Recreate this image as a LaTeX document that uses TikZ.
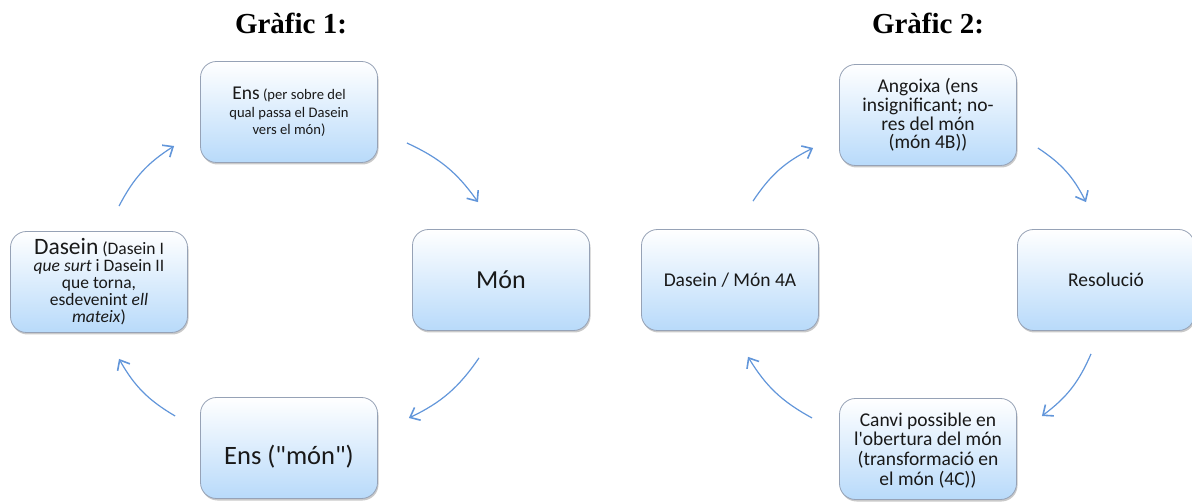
\documentclass[tikz,border=0pt]{standalone}
\usepackage{fontspec}
\newfontfamily\boxfont{Carlito}[Ligatures=TeXOff]
\newfontfamily\titlefont{Liberation Serif}
\usetikzlibrary{arrows.meta,shadows,calc}
\definecolor{boxblue}{RGB}{184,218,250}
\definecolor{boxedge}{RGB}{150,162,182}
\definecolor{cycblue}{RGB}{98,150,218}
\tikzset{
  cbox/.style={draw=boxedge, line width=0.8pt, rounded corners=16pt,
    top color=white, bottom color=boxblue,
    minimum width=177pt, minimum height=101pt, align=center, inner sep=2pt,
    text=black!90,
    drop shadow={shadow xshift=1pt, shadow yshift=-2pt, opacity=0.3, fill=black!70}},
  cyc/.style={draw=cycblue, line width=1.2pt,
    -{Straight Barb[angle=80:11pt, line width=1.6pt]}},
  titlelbl/.style={font=\titlefont\bfseries\fontsize{29}{31}\selectfont},
  gtwo/.style={font=\boxfont\fontsize{19.5}{18.7}\selectfont}
}
\begin{document}
\begin{tikzpicture}[x=1pt,y=1pt]
  \useasboundingbox (0,0) rectangle (1192,501);
  % Titols
  \node[titlelbl] (tit1) at (291,477) {Gràfic 1:};
  \node[titlelbl] (tit2) at (928,477) {Gràfic 2:};

  % Grafic 1
  \node[cbox, font=\boxfont\fontsize{14.6}{17.5}\selectfont] (ensA) at (289,389)
    {{\fontsize{19.5}{19}\selectfont Ens} (per sobre del\\qual passa el Dasein\\vers el món)};
  \node[cbox, font=\boxfont\fontsize{26}{28}\selectfont] (mon) at (501,221) {Món};
  \node[cbox, font=\boxfont\fontsize{17.5}{17}\selectfont] (dasein) at (99,219)
    {{\fontsize{23.5}{20}\selectfont Dasein} (Dasein I\\\textit{que surt} i Dasein II\\que torna,\\esdevenint \textit{ell}\\\textit{mateix})};
  \node[cbox, font=\boxfont\fontsize{26.5}{28}\selectfont] (ensB) at (289,53)
    {\raisebox{-9pt}[\height][\depth]{Ens ("món")}};

  \draw[cyc] ($(dasein.north)+(20,25)$) to[bend left=15] ($(ensA.west)+(-26,-34)$);
  \draw[cyc] ($(ensA.east)+(29,-31)$) to[bend left=15] ($(mon.north)+(-23,27)$);
  \draw[cyc] ($(mon.south)+(-22,-27)$) to[bend left=15] ($(ensB.east)+(31,30)$);
  \draw[cyc] ($(ensB.west)+(-25,32)$) to[bend left=15] ($(dasein.south)+(20,-26)$);

  % Grafic 2
  \node[cbox, gtwo] (ango) at (928,386)
    {Angoixa (ens\\insignificant; no-\\res del món\\(món 4B))};
  \node[cbox, gtwo] (dmon) at (730,221) {Dasein / Món 4A};
  \node[cbox, gtwo] (reso) at (1106,221) {Resolució};
  \node[cbox, gtwo] (canvi) at (928,52)
    {\raisebox{-3pt}[\height][\depth]{\begin{tabular}{@{}c@{}}Canvi possible en\\l'obertura del món\\(transformació en\\el món (4C))\end{tabular}}};

  \draw[cyc] ($(dmon.north)+(23,28)$) to[bend left=15] ($(ango.west)+(-26,-33)$);
  \draw[cyc] ($(ango.east)+(21,-33)$) to[bend left=15] ($(reso.north)+(-20,27)$);
  \draw[cyc] ($(reso.south)+(-15,-23)$) to[bend left=15] ($(canvi.east)+(25,33)$);
  \draw[cyc] ($(canvi.west)+(-27,31)$) to[bend left=15] ($(dmon.south)+(18,-26)$);
\end{tikzpicture}
\end{document}
